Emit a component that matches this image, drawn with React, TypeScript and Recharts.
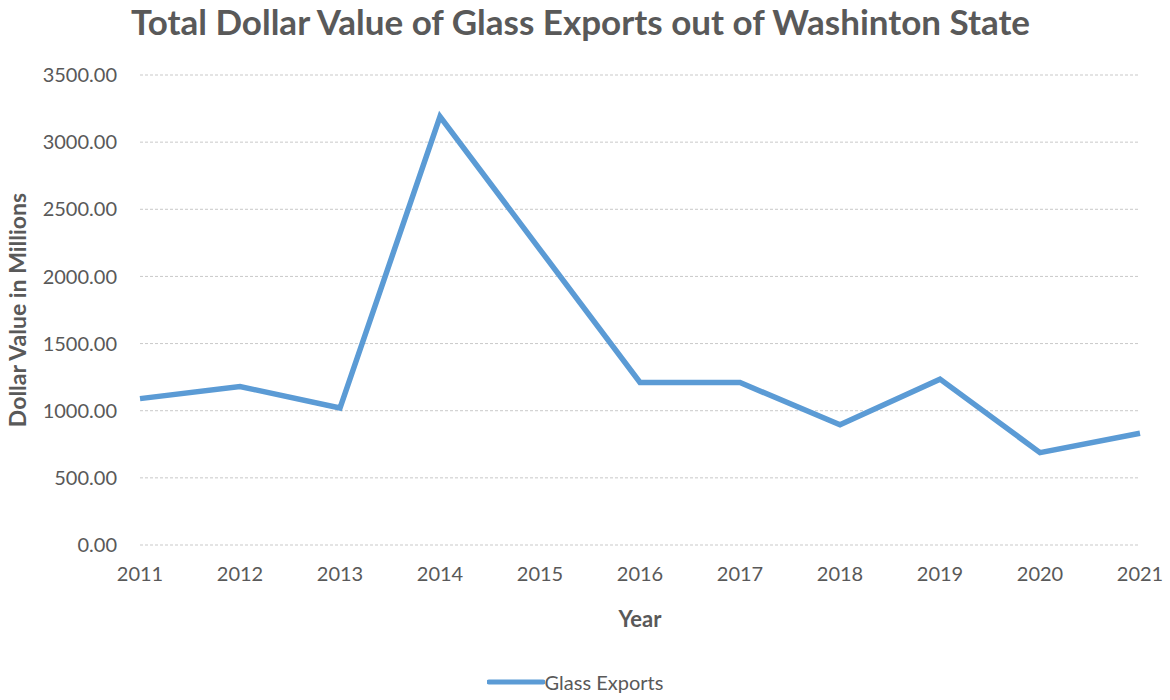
import React from 'react';
import { LineChart, Line, XAxis, YAxis, CartesianGrid, Legend } from 'recharts';

const years = ['2011', '2012', '2013', '2014', '2015', '2016', '2017', '2018', '2019', '2020', '2021'];
const glassExports = [1090, 1180, 1020, 3190, 2200, 1210, 1210, 895, 1235, 688, 832];
const yTicks = [0, 500, 1000, 1500, 2000, 2500, 3000, 3500];

const data = years.map((year, i) => ({ year, value: glassExports[i] }));

const TEXT = '#595959';
const BLUE = '#5B9BD5';
const FONT = 'Lato, "Open Sans", sans-serif';

const LegendContent = () => (
  <div style={{ display: 'flex', justifyContent: 'center', alignItems: 'center', fontFamily: FONT }}>
    <svg width={58} height={10}>
      <line x1={2} y1={5} x2={56} y2={5} stroke={BLUE} strokeWidth={5} strokeLinecap="round" />
    </svg>
    <span style={{ fontSize: 20, color: TEXT }}>Glass Exports</span>
  </div>
);

export default function App() {
  return (
    <div style={{ position: 'absolute', left: 0, top: 0, width: 1170, height: 700, background: '#fff', fontFamily: FONT }}>
      <div
        style={{
          position: 'absolute',
          top: 0,
          left: 0,
          width: 1161,
          textAlign: 'center',
          fontSize: 35,
          fontWeight: 700,
          color: TEXT,
        }}
      >
        Total Dollar Value of Glass Exports out of Washinton State
      </div>
      <LineChart width={1170} height={700} data={data} margin={{ top: 75, right: 30, bottom: 43, left: 10 }}>
        <CartesianGrid vertical={false} stroke="#C9C9C9" strokeDasharray="3 2" />
        <XAxis
          dataKey="year"
          axisLine={false}
          tickLine={false}
          tickMargin={16}
          height={82}
          tick={{ fill: TEXT, fontSize: 20, fontFamily: FONT }}
          label={{ value: 'Year', position: 'insideBottom', offset: 0, fill: TEXT, fontSize: 22, fontWeight: 700, fontFamily: FONT }}
        />
        <YAxis
          domain={[0, 3500]}
          ticks={yTicks}
          width={130}
          axisLine={false}
          tickLine={false}
          tickMargin={17}
          tickFormatter={(v: number) => v.toFixed(2)}
          tick={{ fill: TEXT, fontSize: 20, fontFamily: FONT }}
          label={{
            value: 'Dollar Value in Millions',
            angle: -90,
            position: 'insideLeft',
            offset: 8,
            fill: TEXT,
            fontSize: 23,
            fontWeight: 700,
            fontFamily: FONT,
            style: { textAnchor: 'middle' },
          }}
        />
        <Legend verticalAlign="bottom" content={<LegendContent />} wrapperStyle={{ bottom: 0, height: 30 }} />
        <Line
          type="linear"
          dataKey="value"
          name="Glass Exports"
          stroke={BLUE}
          strokeWidth={5.5}
          dot={false}
          activeDot={false}
          isAnimationActive={false}
        />
      </LineChart>
    </div>
  );
}
